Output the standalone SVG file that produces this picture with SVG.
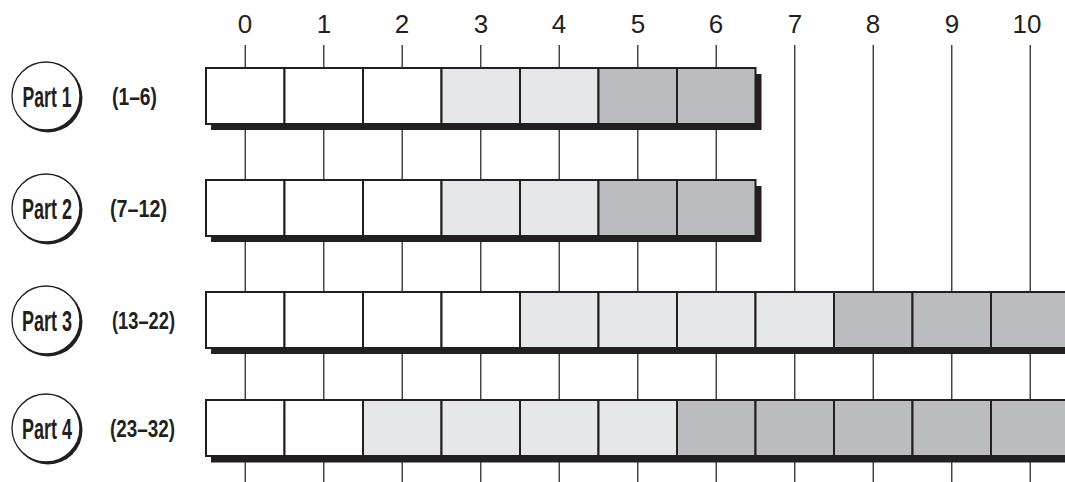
<svg xmlns="http://www.w3.org/2000/svg" width="1065" height="482" viewBox="0 0 1065 482">
<style>
.num{font-family:"Liberation Sans",Arial,sans-serif;font-size:26px;fill:#231f20;text-anchor:middle}
.part{font-family:"Liberation Sans",Arial,sans-serif;font-size:29px;font-weight:bold;fill:#231f20;text-anchor:middle}
.rng{font-family:"Liberation Sans",Arial,sans-serif;font-size:23px;font-weight:bold;fill:#231f20}
.grid line{stroke:#3a3a3a;stroke-width:1.4}
.c{stroke:#231f20;stroke-width:2}
.w{fill:#ffffff}
.l{fill:#e6e7e9}
.d{fill:#bbbcc0}
.sh{fill:#231f20}
.circ{fill:#ffffff;stroke:#231f20;stroke-width:1.3}
</style>
<rect width="1065" height="482" fill="#ffffff"/>
<g id="axis-labels">
<text class="num" x="245" y="33">0</text>
<text class="num" x="324" y="33">1</text>
<text class="num" x="402" y="33">2</text>
<text class="num" x="481" y="33">3</text>
<text class="num" x="559" y="33">4</text>
<text class="num" x="638" y="33">5</text>
<text class="num" x="716" y="33">6</text>
<text class="num" x="795" y="33">7</text>
<text class="num" x="873" y="33">8</text>
<text class="num" x="952" y="33">9</text>
<text class="num" x="1027" y="33">10</text>
</g>
<g id="connectors" class="grid">
<line x1="245.25" y1="45" x2="245.25" y2="482"/>
<line x1="323.75" y1="45" x2="323.75" y2="482"/>
<line x1="402.25" y1="45" x2="402.25" y2="482"/>
<line x1="480.75" y1="45" x2="480.75" y2="482"/>
<line x1="559.25" y1="45" x2="559.25" y2="482"/>
<line x1="637.75" y1="45" x2="637.75" y2="482"/>
<line x1="716.25" y1="45" x2="716.25" y2="482"/>
<line x1="794.75" y1="45" x2="794.75" y2="482"/>
<line x1="873.25" y1="45" x2="873.25" y2="482"/>
<line x1="951.75" y1="45" x2="951.75" y2="482"/>
<line x1="1030.25" y1="45" x2="1030.25" y2="482"/>
</g>
<g id="part1">
<circle cx="48" cy="98" r="34.5" class="sh"/>
<circle cx="46" cy="96" r="34" class="circ"/>
<text class="part" x="47" y="107" textLength="49" lengthAdjust="spacingAndGlyphs">Part 1</text>
<text class="rng" x="112" y="105" textLength="45" lengthAdjust="spacingAndGlyphs">(1–6)</text>
<rect x="211" y="74" width="550.5" height="56" class="sh"/>
<rect x="206" y="68" width="78.5" height="56" class="c w"/>
<rect x="284.5" y="68" width="78.5" height="56" class="c w"/>
<rect x="363" y="68" width="78.5" height="56" class="c w"/>
<rect x="441.5" y="68" width="78.5" height="56" class="c l"/>
<rect x="520" y="68" width="78.5" height="56" class="c l"/>
<rect x="598.5" y="68" width="78.5" height="56" class="c d"/>
<rect x="677" y="68" width="78.5" height="56" class="c d"/>
</g>
<g id="part2">
<circle cx="48" cy="210" r="34.5" class="sh"/>
<circle cx="46" cy="208" r="34" class="circ"/>
<text class="part" x="47" y="219" textLength="50" lengthAdjust="spacingAndGlyphs">Part 2</text>
<text class="rng" x="110" y="217" textLength="57" lengthAdjust="spacingAndGlyphs">(7–12)</text>
<rect x="211" y="186" width="550.5" height="56" class="sh"/>
<rect x="206" y="180" width="78.5" height="56" class="c w"/>
<rect x="284.5" y="180" width="78.5" height="56" class="c w"/>
<rect x="363" y="180" width="78.5" height="56" class="c w"/>
<rect x="441.5" y="180" width="78.5" height="56" class="c l"/>
<rect x="520" y="180" width="78.5" height="56" class="c l"/>
<rect x="598.5" y="180" width="78.5" height="56" class="c d"/>
<rect x="677" y="180" width="78.5" height="56" class="c d"/>
</g>
<g id="part3">
<circle cx="48" cy="322" r="34.5" class="sh"/>
<circle cx="46" cy="320" r="34" class="circ"/>
<text class="part" x="47" y="331" textLength="50" lengthAdjust="spacingAndGlyphs">Part 3</text>
<text class="rng" x="112" y="329" textLength="63" lengthAdjust="spacingAndGlyphs">(13–22)</text>
<rect x="211" y="298" width="870" height="56" class="sh"/>
<rect x="206" y="292" width="78.5" height="56" class="c w"/>
<rect x="284.5" y="292" width="78.5" height="56" class="c w"/>
<rect x="363" y="292" width="78.5" height="56" class="c w"/>
<rect x="441.5" y="292" width="78.5" height="56" class="c w"/>
<rect x="520" y="292" width="78.5" height="56" class="c l"/>
<rect x="598.5" y="292" width="78.5" height="56" class="c l"/>
<rect x="677" y="292" width="78.5" height="56" class="c l"/>
<rect x="755.5" y="292" width="78.5" height="56" class="c l"/>
<rect x="834" y="292" width="78.5" height="56" class="c d"/>
<rect x="912.5" y="292" width="78.5" height="56" class="c d"/>
<rect x="991" y="292" width="78.5" height="56" class="c d"/>
</g>
<g id="part4">
<circle cx="48" cy="430" r="34.5" class="sh"/>
<circle cx="46" cy="428" r="34" class="circ"/>
<text class="part" x="47" y="439" textLength="50" lengthAdjust="spacingAndGlyphs">Part 4</text>
<text class="rng" x="110" y="437" textLength="65" lengthAdjust="spacingAndGlyphs">(23–32)</text>
<rect x="211" y="406" width="870" height="56.5" class="sh"/>
<rect x="206" y="400" width="78.5" height="56" class="c w"/>
<rect x="284.5" y="400" width="78.5" height="56" class="c w"/>
<rect x="363" y="400" width="78.5" height="56" class="c l"/>
<rect x="441.5" y="400" width="78.5" height="56" class="c l"/>
<rect x="520" y="400" width="78.5" height="56" class="c l"/>
<rect x="598.5" y="400" width="78.5" height="56" class="c l"/>
<rect x="677" y="400" width="78.5" height="56" class="c d"/>
<rect x="755.5" y="400" width="78.5" height="56" class="c d"/>
<rect x="834" y="400" width="78.5" height="56" class="c d"/>
<rect x="912.5" y="400" width="78.5" height="56" class="c d"/>
<rect x="991" y="400" width="78.5" height="56" class="c d"/>
</g>
</svg>
